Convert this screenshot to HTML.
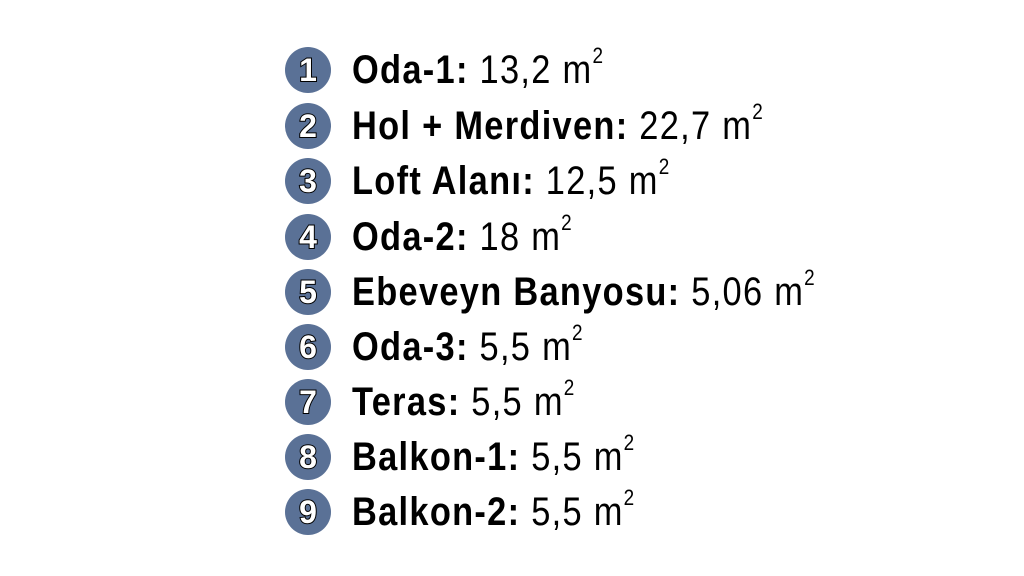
<!DOCTYPE html>
<html><head><style>
body{margin:0;width:1024px;height:576px;background:#fff;position:relative;overflow:hidden;font-family:"Liberation Sans",sans-serif}
.r{position:absolute;left:285px;height:48px;display:flex;align-items:center}
.c{width:46px;height:46px;border-radius:50%;background:#5a7196;color:#fff;font-weight:bold;font-size:32px;display:flex;align-items:center;justify-content:center;-webkit-text-stroke:2px #000;paint-order:stroke fill}
.t{margin-left:21px;font-size:40px;color:#000;letter-spacing:1.5px;white-space:nowrap;transform:scaleX(0.86);transform-origin:left center}
.t b{font-weight:bold}
sup{font-size:22px;position:relative;top:-5px}
</style></head><body>
<div class="r" style="top:46px"><div class="c">1</div><div class="t"><b>Oda-1:</b> 13,2 m<sup>2</sup></div></div>
<div class="r" style="top:102px"><div class="c">2</div><div class="t"><b>Hol + Merdiven:</b> 22,7 m<sup>2</sup></div></div>
<div class="r" style="top:157px"><div class="c">3</div><div class="t"><b>Loft Alanı:</b> 12,5 m<sup>2</sup></div></div>
<div class="r" style="top:213px"><div class="c">4</div><div class="t"><b>Oda-2:</b> 18 m<sup>2</sup></div></div>
<div class="r" style="top:268px"><div class="c">5</div><div class="t"><b>Ebeveyn Banyosu:</b> 5,06 m<sup>2</sup></div></div>
<div class="r" style="top:323px"><div class="c">6</div><div class="t"><b>Oda-3:</b> 5,5 m<sup>2</sup></div></div>
<div class="r" style="top:378px"><div class="c">7</div><div class="t"><b>Teras:</b> 5,5 m<sup>2</sup></div></div>
<div class="r" style="top:433px"><div class="c">8</div><div class="t"><b>Balkon-1:</b> 5,5 m<sup>2</sup></div></div>
<div class="r" style="top:488px"><div class="c">9</div><div class="t"><b>Balkon-2:</b> 5,5 m<sup>2</sup></div></div>
</body></html>
